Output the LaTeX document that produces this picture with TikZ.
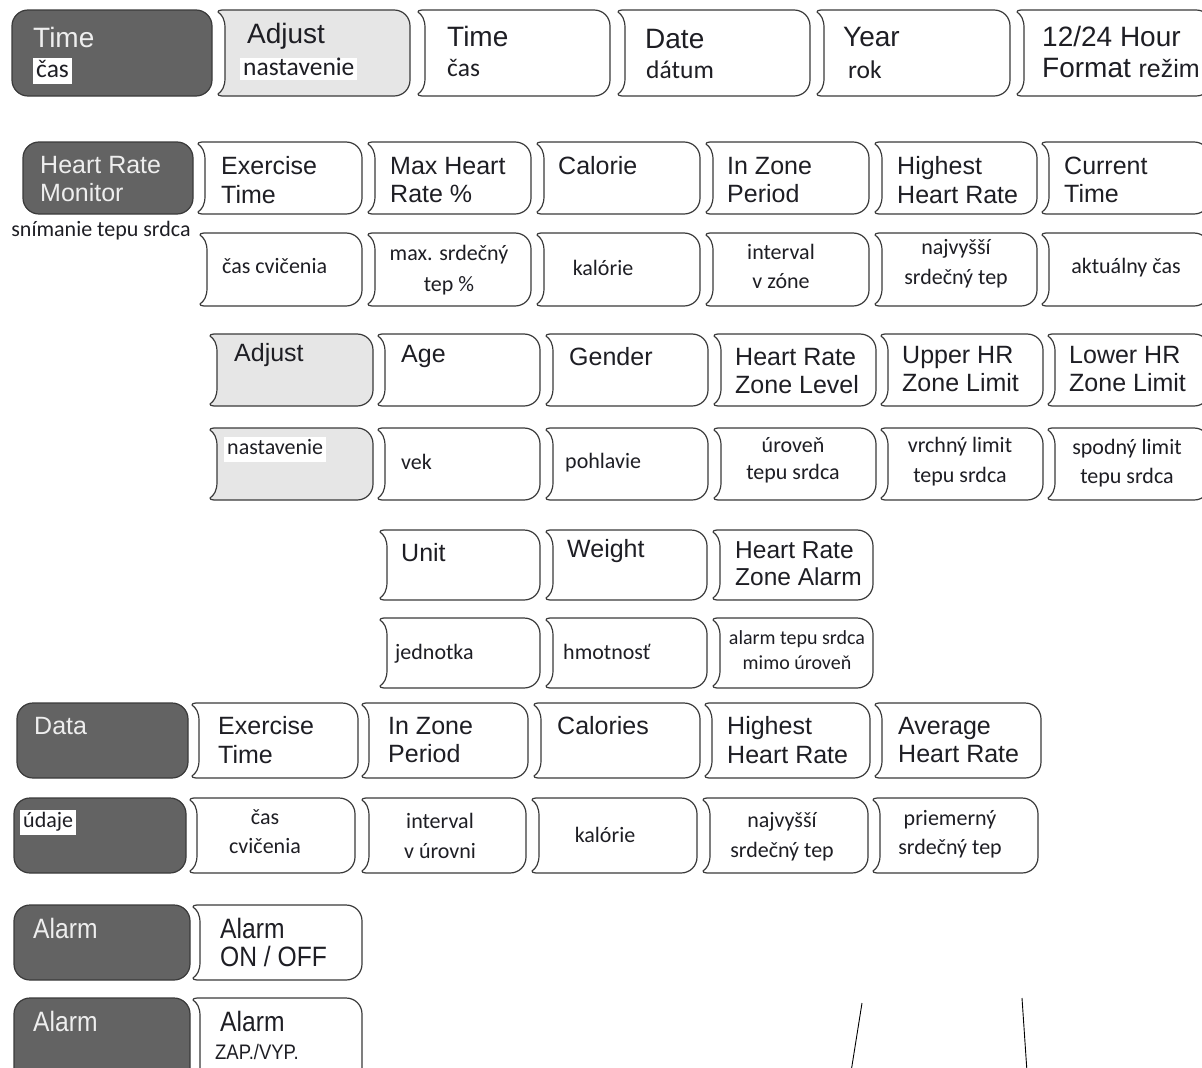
\documentclass[tikz,border=0pt]{standalone}
\usepackage{fontspec}
\newfontfamily\arialf{Liberation Sans}
\newfontfamily\calib{Carlito}
\newfontfamily\narrowf[FakeStretch=0.88]{Liberation Sans}
\definecolor{dk}{HTML}{636363}
\definecolor{lg}{HTML}{E6E6E6}
\definecolor{edgec}{HTML}{3A3A3A}
\definecolor{txt}{HTML}{1E1E24}
\definecolor{lt}{HTML}{EEEEEE}
\tikzset{
  boxline/.style={draw=edgec, line width=1.2pt},
  en/.style={font=\arialf\fontsize{25}{28.5}\selectfont, text=txt, inner sep=0pt, anchor=west, align=left},
  enL/.style={en, font=\arialf\fontsize{28}{31}\selectfont},
  sk/.style={font=\calib\fontsize{22}{#1}\selectfont, text=txt, inner sep=0pt, align=center},
  sk/.default=30,
  skL/.style={font=\calib\fontsize{25.5}{30}\selectfont, text=txt, inner sep=0pt, anchor=west},
  ondark/.style={text=lt},
  wbg/.style={fill=white, inner xsep=3pt, inner ysep=2pt, text height=17pt, text depth=5pt},
  nar/.style={font=\narrowf\fontsize{#1}{28}\selectfont, text=txt, inner sep=0pt, anchor=west, align=left},
  nar/.default=28
}
% chevron-left box: x0,y0,x1,y1,fill
\newcommand\chev[5]{%
  \draw[boxline,fill=#5,line join=round] (#1+4,#2) -- (#3-16,#2)
    .. controls (#3-7,#2) and (#3,#2+7) .. (#3,#2+16)
    -- (#3,#4-16)
    .. controls (#3,#4-7) and (#3-7,#4) .. (#3-16,#4)
    -- (#1+4,#4)
    .. controls (#1+1,#4) and (#1,#4-1) .. (#1,#4-2)
    .. controls (#1+4,#4-5) and (#1+7,#4-9) .. (#1+7,#4-18)
    -- (#1+7,#2+18)
    .. controls (#1+7,#2+9) and (#1+4,#2+5) .. (#1,#2+2)
    .. controls (#1,#2+1) and (#1+1,#2) .. (#1+4,#2) -- cycle;}
\newcommand\dbox[4]{%
  \draw[boxline,fill=dk,rounded corners=16pt] (#1,#2) rectangle (#3,#4);}
\begin{document}
\begin{tikzpicture}[x=1pt,y=-1pt]
\useasboundingbox (0,0) rectangle (1202,1068);
% ---------- Row 1
\dbox{12}{10}{212}{96}
\chev{218}{10}{410}{96}{lg}
\chev{418}{10}{610}{96}{white}
\chev{618}{10}{810}{96}{white}
\chev{817}{10}{1010}{96}{white}
\chev{1017}{10}{1212}{96}{white}
\node[enL,ondark] (r1a) at (33,37) {Time};
\node[skL,wbg] (r1as) at (33,71) {čas};
\node[enL] (r1b) at (247,36) {Adjust};
\node[skL,wbg,text height=16pt,text depth=4pt,inner ysep=1pt] (r1bs) at (240,69) {nastavenie};
\node[enL] (r1c) at (447,36) {Time};
\node[skL] (r1cs) at (447,68) {čas};
\node[enL] (r1d) at (645,39) {Date};
\node[skL] (r1ds) at (646,70) {dátum};
\node[enL] (r1e) at (843,37) {Year};
\node[skL] (r1es) at (848,70) {rok};
\node[enL] (r1f) at (1042,52) {12/24 Hour\\Format {\fontsize{25}{31}\selectfont režim}};
% ---------- Row 2
\dbox{23}{142}{193}{214}
\chev{198}{142}{362}{214}{white}
\chev{368}{142}{531}{214}{white}
\chev{537}{142}{700}{214}{white}
\chev{706}{142}{869}{214}{white}
\chev{875}{142}{1037}{214}{white}
\chev{1042}{142}{1210}{214}{white}
\node[en,ondark] (hrm) at (40,179) {Heart Rate\\Monitor};
\node[sk] (hrms) at (101,231) {snímanie tepu srdca};
\node[en] (r2a) at (221,180) {Exercise\\Time};
\node[en] (r2b) at (390,180) {Max Heart\\Rate \%};
\node[en] (r2c) at (558,166) {Calorie};
\node[en] (r2d) at (727,180) {In Zone\\Period};
\node[en] (r2e) at (897,180) {Highest\\Heart Rate};
\node[en] (r2f) at (1064,180) {Current\\Time};
% ---------- Row 3
\chev{200}{233}{362}{306}{white}
\chev{368}{233}{531}{306}{white}
\chev{537}{233}{700}{306}{white}
\chev{706}{233}{869}{306}{white}
\chev{875}{233}{1037}{306}{white}
\chev{1042}{233}{1210}{306}{white}
\node[sk,anchor=west] (r3a) at (222,266) {čas cvičenia};
\node[sk=31] (r3b) at (449,270) {max. srdečný\\tep \%};
\node[sk] (r3c) at (603,268) {kalórie};
\node[sk=29] (r3d) at (781,266) {interval\\v zóne};
\node[sk=30] (r3e) at (956,264) {najvyšší\\srdečný tep};
\node[sk] (r3f) at (1126,268) {aktuálny čas};
% ---------- Row 4
\chev{210}{334}{373}{406}{lg}
\chev{378}{334}{540}{406}{white}
\chev{546}{334}{708}{406}{white}
\chev{714}{334}{876}{406}{white}
\chev{881}{334}{1043}{406}{white}
\chev{1048}{334}{1210}{406}{white}
\node[en] (r4a) at (234,355) {Adjust};
\node[en] (r4b) at (401,356) {Age};
\node[en] (r4c) at (569,357) {Gender};
\node[en] (r4d) at (735,371) {Heart Rate\\Zone Level};
\node[en] (r4e) at (902,369) {Upper HR\\Zone Limit};
\node[en] (r4f) at (1069,369) {Lower HR\\Zone Limit};
% ---------- Row 5
\chev{210}{428}{373}{500}{lg}
\chev{378}{428}{540}{500}{white}
\chev{546}{428}{708}{500}{white}
\chev{714}{428}{876}{500}{white}
\chev{881}{428}{1043}{500}{white}
\chev{1048}{428}{1210}{500}{white}
\node[sk,anchor=west,wbg,text height=16pt,text depth=5pt] (r5a) at (224,449) {nastavenie};
\node[sk,anchor=west] (r5b) at (401,462) {vek};
\node[sk,anchor=west] (r5c) at (565,463) {pohlavie};
\node[sk=27] (r5d) at (793,460) {úroveň\\tepu srdca};
\node[sk=30] (r5e) at (960,462) {vrchný limit\\tepu srdca};
\node[sk=29] (r5f) at (1127,463) {spodný limit\\tepu srdca};
% ---------- Row 6
\chev{380}{530}{540}{600}{white}
\chev{546}{530}{707}{600}{white}
\chev{713}{530}{873}{600}{white}
\node[en] (r6a) at (401,553) {Unit};
\node[en] (r6b) at (567,551) {Weight};
\node[en,font=\arialf\fontsize{24.5}{27}\selectfont] (r6c) at (735,564) {Heart Rate\\Zone Alarm};
% ---------- Row 7
\chev{380}{618}{540}{688}{white}
\chev{546}{618}{707}{688}{white}
\chev{713}{618}{873}{688}{white}
\node[sk,anchor=west] (r7a) at (395,654) {jednotka};
\node[sk,anchor=west] (r7b) at (563,652) {hmotnosť};
\node[sk,font=\calib\fontsize{20}{25}\selectfont] (r7c) at (797,650) {alarm tepu srdca\\mimo úroveň};
% ---------- Row 8
\dbox{17}{703}{188}{778}
\chev{192}{703}{358}{778}{white}
\chev{362}{703}{528}{778}{white}
\chev{534}{703}{700}{778}{white}
\chev{705}{703}{870}{778}{white}
\chev{875}{703}{1041}{778}{white}
\node[en,ondark] (r8d) at (34,726) {Data};
\node[en] (r8a) at (218,740) {Exercise\\Time};
\node[en] (r8b) at (388,740) {In Zone\\Period};
\node[en] (r8c) at (557,726) {Calories};
\node[en] (r8e) at (727,740) {Highest\\Heart Rate};
\node[en] (r8f) at (898,740) {Average\\Heart Rate};
% ---------- Row 9
\dbox{14}{798}{186}{873}
\chev{190}{798}{355}{873}{white}
\chev{362}{798}{526}{873}{white}
\chev{532}{798}{697}{873}{white}
\chev{703}{798}{868}{873}{white}
\chev{873}{798}{1038}{873}{white}
\node[sk,anchor=west,wbg,text height=16pt,text depth=5pt] (r9d) at (20,822) {údaje};
\node[sk=29] (r9a) at (265,832) {čas\\cvičenia};
\node[sk=30] (r9b) at (440,836) {interval\\v úrovni};
\node[sk] (r9c) at (605,835) {kalórie};
\node[sk=30] (r9e) at (782,837) {najvyšší\\srdečný tep};
\node[sk=29] (r9f) at (950,834) {priemerný\\srdečný tep};
% ---------- Row 10
\dbox{14}{905}{190}{980}
\chev{193}{905}{362}{980}{white}
\node[nar,ondark] (r10d) at (33,928) {Alarm};
\node[nar] (r10a) at (220,942) {Alarm\\ON / OFF};
% ---------- Row 11
\dbox{14}{998}{190}{1090}
\chev{193}{998}{362}{1090}{white}
\node[nar,ondark] (r11d) at (33,1021) {Alarm};
\node[nar] (r11a) at (220,1021) {Alarm};
\node[nar=21] (r11b) at (215,1052) {ZAP./VYP.};
% ---------- stray lines
\coordinate (la1) at (862,1003);
\coordinate (la2) at (851,1072);
\coordinate (lb1) at (1022,998);
\coordinate (lb2) at (1027,1072);
\draw[line width=0.9pt] (la1) -- (la2);
\draw[line width=0.9pt] (lb1) -- (lb2);
\end{tikzpicture}
\end{document}
